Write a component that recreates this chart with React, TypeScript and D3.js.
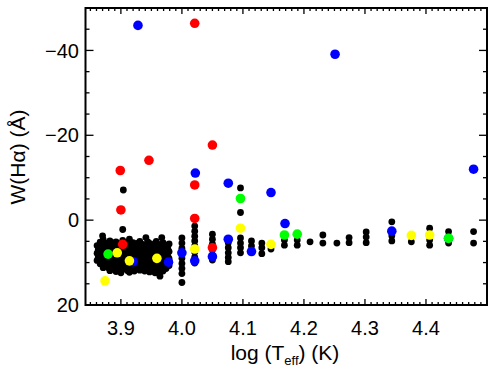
import React from 'react';
import * as d3 from 'd3';

// log(Teff) vs W(Halpha)
const blackPts: [number, number][] = [
  // dense cool-star clump
  [3.861, 6.0], [3.861, 7.8], [3.861, 9.5], [3.863, 6.9], [3.863, 8.7],
  [3.866, 5.2], [3.866, 7.0], [3.866, 8.6], [3.866, 10.3], [3.868, 6.1], [3.868, 9.4],
  [3.870, 3.7], [3.871, 4.6], [3.871, 6.3], [3.871, 8.0], [3.871, 9.8], [3.871, 11.2],
  [3.874, 5.4], [3.874, 7.1], [3.874, 8.9], [3.874, 10.5],
  [3.877, 5.5], [3.877, 7.2], [3.877, 9.1], [3.877, 10.8],
  [3.880, 6.0], [3.880, 7.7], [3.880, 9.6], [3.880, 11.3],
  [3.882, 4.9], [3.882, 6.6], [3.882, 8.4], [3.882, 10.1], [3.882, 11.9],
  [3.885, 5.3], [3.885, 7.0], [3.885, 8.9], [3.885, 10.6],
  [3.887, 5.8], [3.887, 7.5], [3.887, 9.3], [3.887, 11.0],
  [3.890, 6.2], [3.890, 8.0], [3.890, 9.8], [3.890, 11.5],
  [3.892, 5.1], [3.892, 6.9], [3.892, 8.7], [3.892, 10.4], [3.892, 12.1],
  [3.895, 6.1], [3.895, 7.9], [3.895, 9.7], [3.895, 11.4],
  [3.898, 5.6], [3.898, 7.3], [3.898, 9.0], [3.898, 10.9],
  [3.900, 6.4], [3.900, 8.1], [3.900, 9.9], [3.900, 12.4],
  [3.903, 4.8], [3.903, 6.5], [3.903, 8.2], [3.903, 9.9], [3.903, 11.6],
  [3.906, 5.4], [3.906, 7.0], [3.906, 8.8], [3.906, 10.5],
  [3.909, 5.9], [3.909, 7.7], [3.909, 9.4], [3.909, 11.1],
  [3.911, 6.6], [3.911, 8.4], [3.911, 10.1], [3.911, 11.9],
  [3.914, 4.5], [3.914, 6.2], [3.914, 8.0], [3.914, 10.6], [3.914, 12.3],
  [3.917, 5.6], [3.917, 7.4], [3.917, 9.2], [3.917, 10.9],
  [3.920, 5.3], [3.920, 7.1], [3.920, 8.8], [3.920, 11.4],
  [3.922, 6.3], [3.922, 8.2], [3.922, 10.0], [3.922, 12.0],
  [3.925, 6.0], [3.925, 7.9], [3.925, 9.6], [3.925, 11.0],
  [3.928, 5.4], [3.928, 7.3], [3.928, 9.0], [3.928, 10.7],
  [3.931, 5.0], [3.931, 6.8], [3.931, 8.5], [3.931, 10.2], [3.931, 11.8],
  [3.933, 6.2], [3.933, 8.0], [3.933, 9.7], [3.933, 11.3],
  [3.936, 5.7], [3.936, 7.4], [3.936, 9.2], [3.936, 10.9],
  [3.939, 6.6], [3.939, 8.5], [3.939, 10.3], [3.939, 12.0],
  [3.941, 4.1], [3.942, 6.3], [3.942, 8.1], [3.942, 9.8], [3.942, 11.5],
  [3.944, 5.1], [3.944, 7.0], [3.944, 8.9], [3.944, 10.8],
  [3.947, 5.5], [3.947, 7.2], [3.947, 9.0], [3.947, 10.7], [3.947, 12.2],
  [3.950, 6.4], [3.950, 8.3], [3.950, 10.1], [3.950, 11.8],
  [3.953, 6.1], [3.953, 7.8], [3.953, 9.5], [3.953, 11.3],
  [3.956, 5.5], [3.956, 7.2], [3.956, 9.0], [3.956, 10.7], [3.956, 12.4],
  [3.958, 5.0], [3.958, 6.7], [3.958, 8.4], [3.958, 10.1], [3.958, 11.9],
  [3.961, 6.2], [3.961, 8.0], [3.961, 9.8], [3.961, 11.5],
  [3.967, 4.1], [3.963, 5.8], [3.963, 7.5], [3.963, 9.3], [3.963, 11.0], [3.963, 12.6],
  [3.964, 13.2],
  [3.966, 6.6], [3.966, 8.3], [3.966, 10.1], [3.966, 11.7],
  [3.969, 5.3], [3.969, 7.0], [3.969, 8.8], [3.969, 10.5], [3.969, 12.0],
  [3.972, 6.0], [3.972, 7.8], [3.972, 9.5], [3.972, 11.2],
  [3.974, 6.2], [3.974, 8.0], [3.974, 9.7], [3.974, 11.4],
  [3.977, 6.8], [3.977, 8.5], [3.977, 10.3],
  [3.979, 5.6], [3.979, 7.4], [3.979, 9.1], [3.979, 10.7],
  // scattered
  [3.904, -7.1], [3.903, 2.2], [4.096, -7.6], [4.096, -1.8],
  // hotter columns
  [4.000, 4.2], [4.000, 5.4], [4.000, 6.6], [4.000, 7.8], [4.000, 9.0], [4.000, 10.2], [4.000, 11.4], [4.000, 12.6], [4.000, 14.7],
  [4.021, 1.4], [4.021, 2.6], [4.021, 3.8], [4.021, 4.9], [4.021, 6.1], [4.021, 7.5], [4.021, 8.7], [4.021, 10.1],
  [4.050, 3.3], [4.050, 4.5], [4.050, 5.6], [4.050, 7.0], [4.050, 8.2], [4.050, 9.4],
  [4.076, 5.3], [4.076, 6.5], [4.076, 7.7], [4.076, 8.8], [4.076, 9.8],
  [4.096, 4.2], [4.096, 5.4], [4.096, 6.5], [4.096, 7.7],
  [4.114, 4.9], [4.114, 6.1], [4.114, 7.4],
  [4.131, 5.4], [4.131, 6.5], [4.131, 7.9],
  [4.146, 6.8],
  [4.168, 4.7], [4.168, 5.9],
  [4.189, 4.7], [4.189, 5.9],
  [4.210, 5.1],
  [4.231, 3.5], [4.231, 5.4],
  [4.254, 5.4],
  [4.274, 4.1], [4.274, 5.3],
  [4.302, 2.8], [4.302, 4.0], [4.302, 5.3],
  [4.344, 0.4], [4.344, 3.7], [4.344, 4.9],
  [4.376, 5.1],
  [4.406, 1.9], [4.406, 4.7], [4.406, 5.9],
  [4.437, 2.7], [4.437, 5.4],
  [4.478, 2.7], [4.478, 5.4],
];

const redPts: [number, number][] = [
  [4.021, -46.4], [4.050, -17.7], [3.946, -14.1], [3.899, -11.7], [4.021, -8.3],
  [3.900, -2.4], [4.021, -0.4], [3.903, 5.7], [4.050, 6.5],
];

const bluePts: [number, number][] = [
  [3.928, -45.9], [4.251, -39.1], [4.478, -12.0], [4.022, -11.1], [4.076, -8.7],
  [4.146, -6.5], [4.169, 0.8], [4.344, 2.6], [4.437, 4.3], [3.920, 9.8],
  [3.978, 9.9], [4.000, 7.7], [4.021, 9.6], [4.050, 8.6], [4.076, 4.5], [4.114, 7.4],
];

const greenPts: [number, number][] = [
  [4.096, -5.1], [4.168, 3.5], [4.189, 3.3], [4.437, 4.3], [3.879, 8.0],
];

const yellowPts: [number, number][] = [
  [4.096, 1.9], [4.021, 6.8], [4.146, 5.7], [3.894, 7.7], [3.914, 9.6],
  [3.959, 9.0], [3.874, 14.3], [4.376, 3.6], [4.406, 3.5],
];

const xTicks = [3.9, 4.0, 4.1, 4.2, 4.3, 4.4];
const yTicks = [-40, -20, 0, 20];
const xDomain: [number, number] = [3.842, 4.5];
const yDomain: [number, number] = [20, -50];

const W = 498, H = 372;
const L = 85.5, R = 487, T = 8, B = 305;
const FONT = 'Liberation Sans, Arial, Helvetica, sans-serif';

export default function App() {
  const x = d3.scaleLinear().domain(xDomain).range([L, R]);
  const y = d3.scaleLinear().domain(yDomain).range([B, T]);

  const xMinor = d3.range(3.85, 4.5, 0.01).filter(v => !xTicks.some(t => Math.abs(t - v) < 1e-6));
  const yMinor = d3.range(-50, 20, 5).filter(v => !yTicks.includes(v));

  const groups: { pts: [number, number][]; color: string; r: number }[] = [
    { pts: blackPts, color: '#000000', r: 3.4 },
    { pts: redPts, color: '#ff0000', r: 4.8 },
    { pts: bluePts, color: '#0000ff', r: 4.8 },
    { pts: greenPts, color: '#00ff00', r: 4.8 },
    { pts: yellowPts, color: '#ffff00', r: 4.8 },
  ];

  return (
    <svg width={W} height={H} style={{ position: 'absolute', left: 0, top: 0, background: '#fff' }} fontFamily={FONT}>
      <rect x={0} y={0} width={W} height={H} fill="#fff" />
      {groups.map((g, gi) => (
        <g key={gi}>
          {g.pts.map((p, i) => (
            <circle key={i} cx={x(p[0])} cy={y(p[1])} r={g.r} fill={g.color} />
          ))}
        </g>
      ))}

      {/* ticks on all four sides */}
      <g stroke="#000" strokeWidth={1.3}>
        {xTicks.map(t => (
          <g key={'xt' + t}>
            <line x1={x(t)} x2={x(t)} y1={B} y2={B - 6} />
            <line x1={x(t)} x2={x(t)} y1={T} y2={T + 6} />
          </g>
        ))}
        {xMinor.map(t => (
          <g key={'xm' + t}>
            <line x1={x(t)} x2={x(t)} y1={B} y2={B - 3} />
            <line x1={x(t)} x2={x(t)} y1={T} y2={T + 3} />
          </g>
        ))}
        {yTicks.map(t => (
          <g key={'yt' + t}>
            <line x1={L} x2={L + 8} y1={y(t)} y2={y(t)} />
            <line x1={R} x2={R - 8} y1={y(t)} y2={y(t)} />
          </g>
        ))}
        {yMinor.map(t => (
          <g key={'ym' + t}>
            <line x1={L} x2={L + 4} y1={y(t)} y2={y(t)} />
            <line x1={R} x2={R - 4} y1={y(t)} y2={y(t)} />
          </g>
        ))}
      </g>
      <rect x={L} y={T} width={R - L} height={B - T} fill="none" stroke="#000" strokeWidth={2} />

      {/* tick labels */}
      {xTicks.map(t => (
        <text key={'xl' + t} x={x(t)} y={335} textAnchor="middle" fontSize={20} fill="#000">
          {t.toFixed(1)}
        </text>
      ))}
      {yTicks.map(t => (
        <text key={'yl' + t} x={79} y={y(t)} dy="0.36em" textAnchor="end" fontSize={20} fill="#000">
          {t < 0 ? '\u2212' + Math.abs(t) : String(t)}
        </text>
      ))}

      {/* axis titles */}
      <text x={285} y={360} textAnchor="middle" fontSize={21} fill="#000">
        log (T<tspan fontSize={13} dy={5}>eff</tspan><tspan dy={-5}>) (K)</tspan>
      </text>
      <text transform="translate(25,157) rotate(-90)" textAnchor="middle" fontSize={21} fill="#000">
        W(Hα) (Å)
      </text>
    </svg>
  );
}
